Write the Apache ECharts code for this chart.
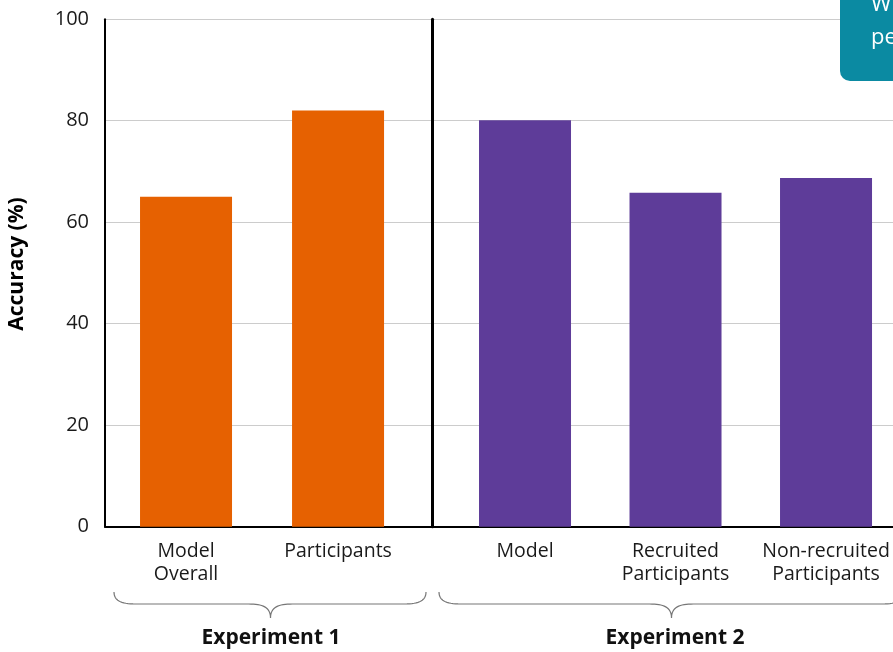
<!DOCTYPE html>
<html>
<head>
<meta charset="utf-8">
<script src="https://cdn.jsdelivr.net/npm/echarts@6/dist/echarts.min.js"></script>
<style>
html,body{margin:0;padding:0;background:#fff;}
#c{width:893px;height:652px;}
</style>
</head>
<body>
<div id="c"></div>
<script>
// ---- data ----
const exp1Categories = ['Model\nOverall', 'Participants'];
const exp1Values = [65, 82];
const exp2Categories = ['Model', 'Recruited\nParticipants', 'Non-recruited\nParticipants'];
const exp2Values = [80.1, 65.8, 68.7];
const groupLabels = ['Experiment 1', 'Experiment 2'];
const yTicks = [0, 20, 40, 60, 80, 100];
const yTitle = 'Accuracy (%)';
const calloutLines = ['W', 'pe'];

const FONT = '"Open Sans", sans-serif';
const ORANGE = '#e66101';
const PURPLE = '#5e3c99';

const chart = echarts.init(document.getElementById('c'), null, {renderer: 'canvas'});

const gridTop = 19.2, gridBottom = 652 - 526.7;

function xAxisFor(gi, cats, min, max) {
  return {
    gridIndex: gi, type: 'value', min: min, max: max,
    axisLine: {show: true, onZero: false, lineStyle: {color: '#000', width: 2}},
    axisTick: {show: false},
    splitLine: {show: false},
    axisLabel: {
      customValues: cats.map((c, i) => i),
      formatter: v => cats[Math.round(v)] || '',
      color: '#1a1a1a', fontSize: 19.5, fontFamily: FONT, lineHeight: 23, margin: 13,
      align: 'center'
    }
  };
}
function yAxisFor(gi, showLabels, lineWidth) {
  return {
    gridIndex: gi, type: 'value', min: yTicks[0], max: yTicks[yTicks.length - 1], interval: 20,
    axisLine: {show: true, onZero: false, lineStyle: {color: '#000', width: lineWidth}},
    axisTick: {show: false},
    splitLine: {show: true, lineStyle: {color: '#cccccc', width: 1}},
    axisLabel: {show: showLabels, color: '#1a1a1a', fontSize: 20, fontFamily: FONT, margin: 16}
  };
}

// sample cubic bezier segments into polyline points (decoration only)
function cubic(p0, p1, p2, p3, n) {
  const pts = [];
  for (let k = 0; k <= n; k++) {
    const t = k / n, u = 1 - t;
    pts.push([
      u*u*u*p0[0] + 3*u*u*t*p1[0] + 3*u*t*t*p2[0] + t*t*t*p3[0],
      u*u*u*p0[1] + 3*u*u*t*p1[1] + 3*u*t*t*p2[1] + t*t*t*p3[1]
    ]);
  }
  return pts;
}
function brace(x0, x1, tip, yTop, yFlat, yTip) {
  let pts = [];
  pts = pts.concat(cubic([x0, yTop], [x0, yFlat - 4], [x0 + 6, yFlat], [x0 + 22, yFlat], 16));
  pts = pts.concat(cubic([tip - 22, yFlat], [tip - 8, yFlat], [tip, yFlat + 3], [tip, yTip], 16));
  pts = pts.concat(cubic([tip, yTip], [tip, yFlat + 3], [tip + 8, yFlat], [tip + 22, yFlat], 16));
  pts = pts.concat(cubic([x1 - 22, yFlat], [x1 - 6, yFlat], [x1, yFlat - 4], [x1, yTop], 16));
  return pts;
}

chart.setOption({
  animation: false,
  backgroundColor: '#fff',
  textStyle: {fontFamily: FONT},
  grid: [
    {left: 105, top: gridTop, width: 327, bottom: gridBottom},
    {left: 432, top: gridTop, right: 0, bottom: gridBottom}
  ],
  xAxis: [
    xAxisFor(0, exp1Categories, -0.533, 1.618),
    xAxisFor(1, exp2Categories, -0.618, 2.445)
  ],
  yAxis: [
    yAxisFor(0, true, 2),
    yAxisFor(1, false, 3)
  ],
  series: [
    {
      type: 'bar', xAxisIndex: 0, yAxisIndex: 0, barWidth: 92,
      itemStyle: {color: ORANGE},
      data: exp1Values.map((v, i) => [i, v])
    },
    {
      type: 'bar', xAxisIndex: 1, yAxisIndex: 1, barWidth: 92,
      itemStyle: {color: PURPLE},
      data: exp2Values.map((v, i) => [i, v])
    }
  ],
  graphic: [
    {type: 'text', x: 17, y: 264, rotation: Math.PI / 2,
      style: {text: yTitle, font: 'bold 21px ' + FONT, fill: '#000', align: 'center', verticalAlign: 'middle'}},
    {type: 'polyline', shape: {points: brace(114, 426, 270.5, 592, 604, 618)},
      style: {fill: null, stroke: '#777', lineWidth: 1.2}},
    {type: 'polyline', shape: {points: brace(439, 904, 671.5, 592, 604, 618)},
      style: {fill: null, stroke: '#777', lineWidth: 1.2}},
    {type: 'text', x: 271, y: 638,
      style: {text: groupLabels[0], font: 'bold 21px ' + FONT, fill: '#111', align: 'center', verticalAlign: 'middle'}},
    {type: 'text', x: 675, y: 638,
      style: {text: groupLabels[1], font: 'bold 21px ' + FONT, fill: '#111', align: 'center', verticalAlign: 'middle'}},
    {type: 'rect', z: 100, shape: {x: 840, y: -30, width: 90, height: 111, r: 10},
      style: {fill: '#0b8aa2'}},
    {type: 'text', z: 101, x: 871, y: 5,
      style: {text: calloutLines[0], font: '22px ' + FONT, fill: '#fff', align: 'left', verticalAlign: 'middle'}},
    {type: 'text', z: 101, x: 871, y: 38,
      style: {text: calloutLines[1], font: '22px ' + FONT, fill: '#fff', align: 'left', verticalAlign: 'middle'}}
  ]
});
</script>
</body>
</html>
